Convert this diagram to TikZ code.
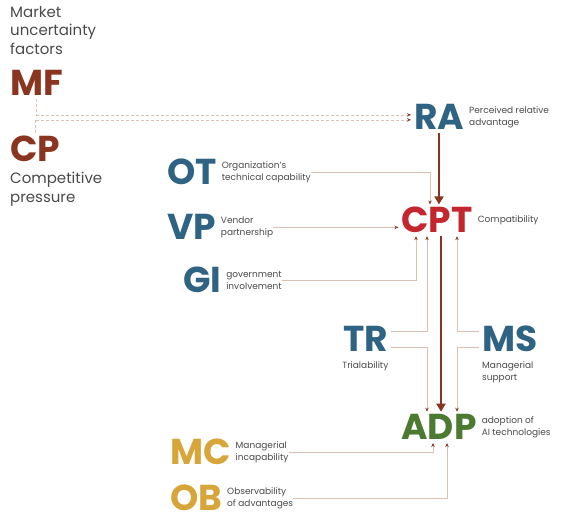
\documentclass[tikz,border=0pt]{standalone}
\usepackage{fontspec}
\setmainfont{Poppins}
\usepackage{xcolor}
\usepackage{tikz}
\usetikzlibrary{shapes,arrows,arrows.meta,positioning,calc}

\definecolor{rust}{HTML}{8A3520}
\definecolor{petrol}{HTML}{2F6384}
\definecolor{crimson}{HTML}{C4262E}
\definecolor{leaf}{HTML}{4C7A30}
\definecolor{mustard}{HTML}{D8A53A}
\definecolor{wire}{HTML}{DCC0B4}
\definecolor{tipc}{HTML}{8A3A25}
\definecolor{ink}{HTML}{4A4A4A}

\begin{document}
\begin{tikzpicture}[x=1pt, y=-1pt, node distance=2pt,
        abbr/.style={font=\fontsize{36}{36}\selectfont\bfseries, inner sep=0pt, outer sep=3pt},
        desc/.style={font=\fontsize{9}{12.5}\selectfont, text=ink, align=left, inner sep=0pt, anchor=west},
        big/.style={font=\fontsize{15}{18.5}\selectfont, text=ink, align=left, inner sep=0pt},
        wirearrow/.style={draw=wire, line width=0.7pt, -{Stealth[length=4pt,width=3.5pt,color=tipc]}},
        mainarrow/.style={draw=rust, line width=1.8pt, -{Triangle[length=8pt,width=9pt]}}]
        \useasboundingbox (0,0) rectangle (563,518);

        % Market factors
        \node (mkt) [big, anchor=north west] at (10,6) {Market\\uncertainty\\factors};
        \node (mf) [abbr, text=rust, anchor=base west] at (7,96) {MF};
        \node (cp) [abbr, text=rust, anchor=base west] at (7,162) {CP};
        \node (cpd) [big, anchor=north west] at (10,172) {Competitive\\pressure};

        % Technology and organization factors
        \node (ra) [abbr, text=petrol, anchor=base] at (439,130) {RA};
        \node (rad) [desc, right=of ra] {Perceived relative\\advantage};
        \node (ot) [abbr, text=petrol, anchor=base west] at (164,185) {OT};
        \node (otd) [desc, right=of ot] {Organization's\\technical capability};
        \node (vp) [abbr, text=petrol, anchor=base west] at (164,240) {VP};
        \node (vpd) [desc, right=of vp] {Vendor\\partnership};
        \node (cpt) [abbr, text=crimson, anchor=base] at (437,233) {CPT};
        \node (cptd) [desc, right=of cpt] {Compatibility};
        \node (gi) [abbr, text=petrol, anchor=base west] at (180,293) {GI};
        \node (gid) [desc, right=of gi] {government\\involvement};
        \node (tr) [abbr, text=petrol, anchor=base west] at (340,352) {TR};
        \node (trd) [desc, below=6pt of tr] {Trialability};
        \node (ms) [abbr, text=petrol, anchor=base west] at (479,352) {MS};
        \node (msd) [desc, below=6pt of ms.south west, anchor=north west, xshift=3pt] {Managerial\\support};

        % Adoption and environment factors
        \node (adp) [abbr, text=leaf, anchor=base] at (439,440) {ADP};
        \node (adpd) [desc, right=of adp] {adoption of\\AI technologies};
        \node (mc) [abbr, text=mustard, anchor=base west] at (167,465) {MC};
        \node (mcd) [desc, right=of mc] {Managerial\\incapability};
        \node (ob) [abbr, text=mustard, anchor=base west] at (167,511) {OB};
        \node (obd) [desc, right=of ob] {Observability\\of advantages};

        % Market links
        \draw[wirearrow, densely dashed] (mf.south) |- ([yshift=2.5pt]ra.west);
        \draw[wirearrow, densely dashed] (cp.north) |- ([yshift=-2.5pt]ra.west);

        % Links into CPT
        \draw[mainarrow] (ra.south) -- (ra.south |- cpt.north);
        \draw[wirearrow] (otd.east) -| ([xshift=-7pt]cpt.north);
        \draw[wirearrow] (vpd.east) -- (vpd.east -| cpt.west);
        \draw[wirearrow] (gid.east) -| ([xshift=-21pt]cpt.south);
        \draw[wirearrow] ([yshift=8pt]tr.east) -| ([xshift=-10pt]cpt.south);
        \draw[wirearrow] ([yshift=8pt]ms.west) -| ([xshift=20pt]cpt.south);

        % Links into ADP
        \draw[mainarrow] ([xshift=4pt]cpt.south) -- ([xshift=4pt]cpt.south |- adp.north);
        \draw[wirearrow] ([yshift=-8pt]tr.east) -| ([xshift=-12pt]adp.north);
        \draw[wirearrow] ([yshift=-8pt]ms.west) -| ([xshift=18pt]adp.north);
        \draw[wirearrow] (mcd.east) -| ([xshift=-6pt]adp.south);
        \draw[wirearrow] (obd.east) -| ([xshift=8pt]adp.south);
    \end{tikzpicture}
\end{document}
